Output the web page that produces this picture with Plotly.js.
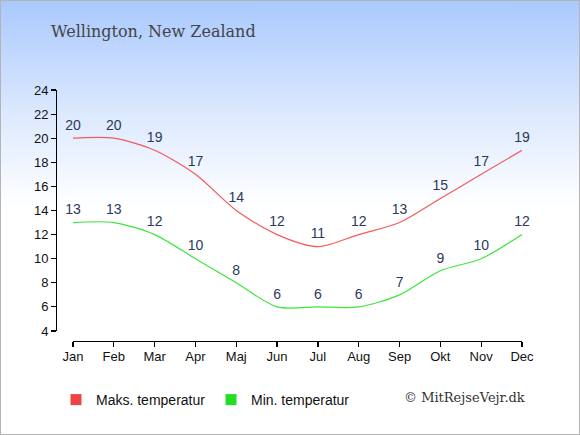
<!DOCTYPE html>
<html><head><meta charset="utf-8">
<script src="https://cdn.plot.ly/plotly-3.0.1.min.js"></script>
<style>
html,body{margin:0;padding:0;}
#wrap{position:relative;width:578px;height:433px;border:1px solid #b4b4b4;
background:linear-gradient(to bottom,#a9c9fe 0px,#dbe8fe 110px,#ffffff 205px,#ffffff 433px);}
#chart{position:absolute;left:-1px;top:-1px;width:580px;height:435px;}
</style></head>
<body><div id="wrap"><div id="chart"></div></div>
<script>
const months = ["Jan","Feb","Mar","Apr","Maj","Jun","Jul","Aug","Sep","Okt","Nov","Dec"];
const maxTemp = [20,20,19,17,14,12,11,12,13,15,17,19];
const minTemp = [13,13,12,10,8,6,6,6,7,9,10,12];
const yTicks = [4,6,8,10,12,14,16,18,20,22,24];
const seriesNames = ["Maks. temperatur","Min. temperatur"];
const titleText = "Wellington, New Zealand";
const creditText = "© MitRejseVejr.dk";

const red = "#f55a5a", green = "#3ce63c";
const labelFont = {family:"Liberation Sans, Arial, sans-serif", size:14, color:"#2a3a5c"};

const traces = [
 {x:months, y:maxTemp, mode:"lines+markers+text", text:maxTemp.map(String), textposition:"top center",
  marker:{size:6, color:"rgba(0,0,0,0)"},
  textfont:labelFont, line:{color:red, width:1.2, shape:"spline", smoothing:0.8}, showlegend:false, hoverinfo:"skip", cliponaxis:false},
 {x:months, y:minTemp, mode:"lines+markers+text", text:minTemp.map(String), textposition:"top center",
  marker:{size:6, color:"rgba(0,0,0,0)"},
  textfont:labelFont, line:{color:green, width:1.2, shape:"spline", smoothing:0.8}, showlegend:false, hoverinfo:"skip", cliponaxis:false},
 {x:[null], y:[null], mode:"markers", name:seriesNames[0], marker:{symbol:"square", size:11, color:"#ee4444"}},
 {x:[null], y:[null], mode:"markers", name:seriesNames[1], marker:{symbol:"square", size:11, color:"#22dd22"}}
];

const W=580,H=435, L=56, R=58, T=90, B=94;
const pw=W-L-R, ph=H-T-B;
const tf = {family:"Liberation Sans, Arial, sans-serif", size:13, color:"#111"};
const layout = {
 width:W, height:H,
 margin:{l:L, r:R, t:T, b:B, pad:0},
 paper_bgcolor:"rgba(0,0,0,0)", plot_bgcolor:"rgba(0,0,0,0)",
 title:{text:titleText, x:0.088, xanchor:"left", y:0.927, yanchor:"middle",
   font:{family:"DejaVu Serif, serif", size:16, color:"#444"}},
 showlegend:true,
 legend:{orientation:"h", x:0.0, y:-0.235, xanchor:"left", yanchor:"middle",
   font:{family:"Liberation Sans, Arial, sans-serif", size:14, color:"#111"},
   itemwidth:30, tracegroupgap:0, bgcolor:"rgba(0,0,0,0)", entrywidth:110, entrywidthmode:"pixels"},
 xaxis:{type:"category", range:[0,11], domain:[(73-L)/pw,1], anchor:"free", position:0,
   showgrid:false, zeroline:false, showline:true, linecolor:"#000", linewidth:1.2,
   ticks:"outside", ticklen:5, tickcolor:"#000", tickwidth:1.2, ticklabelstandoff:-2,
   tickfont:tf, fixedrange:true},
 yaxis:{range:[4,24], domain:[10/ph,1], anchor:"free", position:0,
   tickvals:yTicks, showgrid:false, zeroline:false, showline:true, linecolor:"#000", linewidth:1.2,
   ticks:"outside", ticklen:5, tickcolor:"#000", tickwidth:1.2,
   tickfont:tf, fixedrange:true},
 annotations:[{text:creditText, xref:"paper", yref:"paper", x:1.01, y:-0.225, xanchor:"right", yanchor:"middle",
   showarrow:false, font:{family:"DejaVu Serif, serif", size:13, color:"#333"}}]
};
Plotly.newPlot("chart", traces, layout, {staticPlot:true, displayModeBar:false});
</script></body></html>
